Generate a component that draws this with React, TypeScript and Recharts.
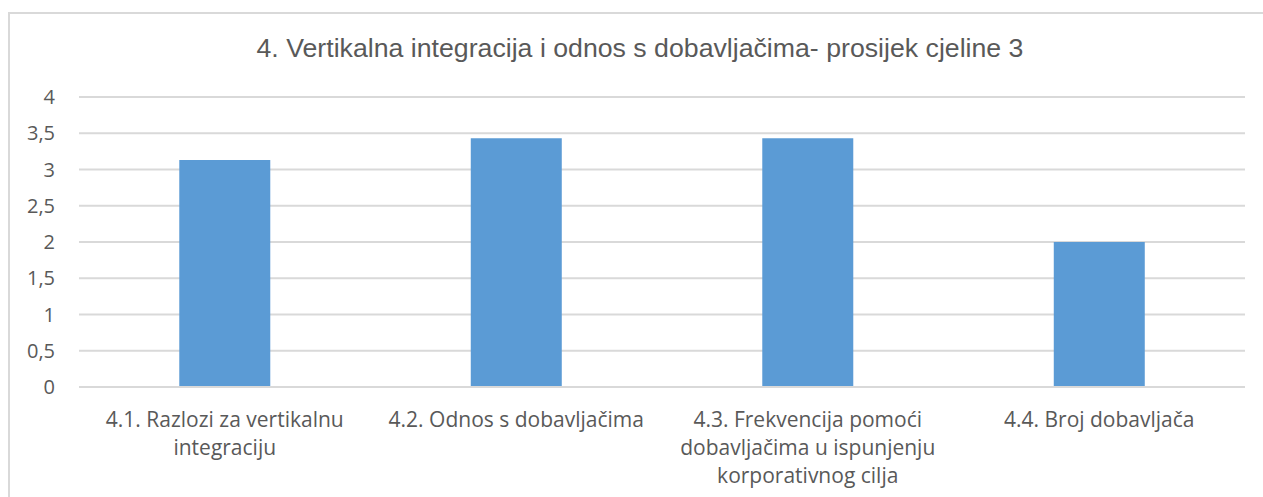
import React from "react";
import { BarChart, Bar, XAxis, YAxis, CartesianGrid, Text } from "recharts";

const categories = [
    "4.1. Razlozi za vertikalnu integraciju",
    "4.2. Odnos s dobavljačima",
    "4.3. Frekvencija pomoći dobavljačima u ispunjenju korporativnog cilja",
    "4.4. Broj dobavljača",
];
const values = [3.13, 3.43, 3.43, 2.0];
const yTicks = [0, 0.5, 1, 1.5, 2, 2.5, 3, 3.5, 4];
const title = "4. Vertikalna integracija i odnos s dobavljačima- prosijek cjeline 3";

const data = categories.map((name, i) => ({ name, value: values[i] }));

const tickFont = "'Open Sans', Lato, sans-serif";
const tickStyle = { fontSize: 21, fontFamily: tickFont };

const CategoryTick = (props: any) => {
    const { x, y, payload } = props;
    return (
        <Text
            x={x}
            y={y + 17}
            width={240}
            textAnchor="middle"
            verticalAnchor="start"
            lineHeight={28}
            fill="#595959"
            style={tickStyle}
            fontSize={21}
            fontFamily={tickFont}
        >
            {payload.value}
        </Text>
    );
};

const App = () => {
    return (
        <div style={{ position: "fixed", left: 0, top: 0, width: 1263, height: 497, overflow: "hidden", background: "#fff" }}>
            <div
                style={{
                    position: "absolute",
                    left: 8,
                    top: 12,
                    width: 1300,
                    height: 600,
                    border: "2px solid #d9d9d9",
                    boxSizing: "border-box",
                }}
            />
            <div
                style={{
                    position: "absolute",
                    left: 8,
                    top: 35,
                    width: 1264,
                    textAlign: "center",
                    fontFamily: "'Liberation Sans', Arial, sans-serif",
                    fontSize: 26.7,
                    lineHeight: "27px",
                    color: "#595959",
                    whiteSpace: "nowrap",
                }}
            >
                {title}
            </div>
            <div style={{ position: "absolute", left: 0, top: 0 }}>
                <BarChart
                    width={1263}
                    height={497}
                    data={data}
                    margin={{ top: 97, right: 18, left: 0, bottom: 0 }}
                    barCategoryGap="34.4%"
                >
                    <CartesianGrid vertical={false} stroke="#d9d9d9" strokeWidth={2} />
                    <XAxis
                        dataKey="name"
                        height={110}
                        interval={0}
                        tickLine={false}
                        axisLine={{ stroke: "#d9d9d9", strokeWidth: 2 }}
                        tick={<CategoryTick />}
                    />
                    <YAxis
                        width={79}
                        domain={[0, 4]}
                        ticks={yTicks}
                        tickLine={false}
                        axisLine={false}
                        tickMargin={18}
                        tickFormatter={(v: number) => String(v).replace(".", ",")}
                        tick={{ fill: "#595959", fontSize: 20, fontFamily: tickFont }}
                    />
                    <Bar dataKey="value" fill="#5b9bd5" isAnimationActive={false} />
                </BarChart>
            </div>
        </div>
    );
};

export default App;
